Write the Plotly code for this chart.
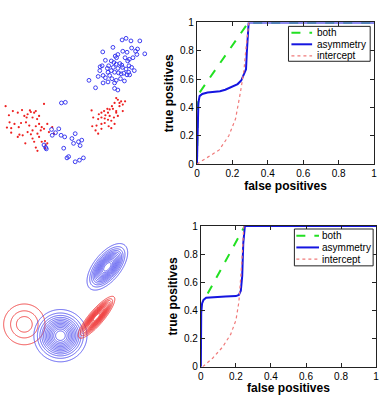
import numpy as np
import plotly.graph_objects as go

# ---------------- data ----------------
# scatter (arbitrary units, y downward)
blue_x = [375,363,390,417,335,392,410,365,378,404,432,304,350,342,346,372,396,408,385,312,330,338,345,356,362,380,384,302,322,296,318,336,350,364,375,392,400,383,330,340,352,360,368,378,386,305,325,290,312,332,345,358,370,320,305,340,262,282,340,350,295,320,
          190,178,148,170,160,177,188,220,230,240,215,235,185,195,200,220,233,245,125,130,132,150,210]
blue_y = [100,105,108,108,128,130,133,140,143,140,148,142,150,155,160,160,160,150,165,168,170,175,180,178,183,170,185,185,185,188,193,190,193,190,195,190,200,205,200,205,207,210,208,213,213,215,215,218,222,225,230,225,232,235,238,238,230,253,255,260,200,205,
          298,300,382,380,392,400,405,395,420,415,425,432,440,470,466,482,477,470,430,438,442,400,410]
red_x = [8,18,30,45,58,65,75,82,85,90,95,100,104,110,125,72,20,12,25,35,48,55,70,80,90,100,110,118,125,135,140,150,155,105,75,60,45,50,68,90,95,110,118,128,130,100,105,135,128,25,85,115,
         345,350,360,372,365,355,340,332,318,325,335,345,365,308,320,300,312,325,338,350,300,290,310,320,330,275,272,285,300,310,322,330,282,290,270,300,340,345,355,292]
red_y = [310,338,325,330,322,340,335,323,328,345,330,325,350,340,303,345,360,376,378,365,375,362,360,370,385,372,365,375,380,365,390,375,395,395,390,400,405,398,425,410,420,405,420,418,430,438,448,425,440,392,397,385,
         285,290,295,295,305,300,300,310,318,320,318,325,325,325,330,330,338,340,345,340,345,350,348,352,355,345,372,370,365,362,372,378,385,395,323,380,365,330,310,335]

# gaussian components for contours: centre x, centre y, sigma major, sigma minor, angle (deg)
g_names  = ["red_left", "blue_big", "blue_top", "red_tilt"]
g_cx     = [65, 175, 318, 285]
g_cy     = [400, 435, 222, 378]
g_s1     = [36, 36, 38, 36.7]
g_s2     = [36, 36, 18.5, 10]
g_ang    = [0, 0, 52, 50]
g_color  = ["#ee3333", "#4a4aee", "#4a4aee", "#ee3333"]
g_lev_start = [0.216, 0.08, 0.08, 0.08]
g_lev_size  = [0.292, 0.07, 0.07, 0.06]
g_lev_end   = [0.8, 0.92, 0.92, 0.92]

# ROC curves (top)
t_asym_x = [0,0.003,0.008,0.015,0.03,0.06,0.1,0.13,0.16,0.2,0.23,0.25,0.265,0.277,0.282,0.287,0.292,1]
t_asym_y = [0,0.2,0.43,0.48,0.495,0.505,0.51,0.515,0.525,0.545,0.565,0.59,0.63,0.67,0.8,0.95,1,1]
t_both_x = [0,0.005,0.012,0.29,1]
t_both_y = [0,0.4,0.5,1,1]
t_int_x = [0,0.05,0.1,0.126,0.18,0.218,0.246,0.265,0.277,0.289,0.293]
t_int_y = [0,0.04,0.08,0.1,0.2,0.32,0.51,0.66,0.82,0.98,1]

# ROC curves (bottom)
b_asym_x = [0,0.001,0.002,0.007,0.015,0.03,0.07,0.14,0.2,0.217,0.228,0.236,0.242,0.247,0.251,1]
b_asym_y = [0,0.2,0.38,0.45,0.475,0.49,0.495,0.5,0.502,0.51,0.54,0.645,0.876,0.99,1,1]
b_both_x = [0.039,0.25,1]
b_both_y = [0.52,1,1]
b_int_x = [0.011,0.067,0.124,0.17,0.2,0.217,0.232,0.24,0.245]
b_int_y = [0,0.06,0.14,0.23,0.33,0.46,0.71,0.92,1]

tick_vals = [0, 0.2, 0.4, 0.6, 0.8, 1]
tick_text = ["0", "0.2", "0.4", "0.6", "0.8", "1"]
legend_names = ["both", "asymmetry", "intercept"]

# ---------------- figure ----------------
FONT = "Liberation Sans, Arial, Helvetica, sans-serif"
W, H = 385, 395
fig = go.Figure()

GREEN = "#22e022"
BLUE = "#1515e0"
PINK = "#f07a7a"
styles = [dict(color=GREEN, width=2, dash="dash"),
          dict(color=BLUE, width=2),
          dict(color=PINK, width=1.2, dash="dot")]

def roc(xa, ya, bx, by, ax, ay, ix, iy):
    for (xs, ys), nm, st in zip([(bx, by), (ax, ay), (ix, iy)], legend_names, styles):
        fig.add_trace(go.Scatter(x=xs, y=ys, mode="lines", name=nm, line=st,
                                 xaxis=xa, yaxis=ya, showlegend=False))

roc("x", "y", t_both_x, t_both_y, t_asym_x, t_asym_y, t_int_x, t_int_y)
roc("x2", "y2", b_both_x, b_both_y, b_asym_x, b_asym_y, b_int_x, b_int_y)

# scatter panel
fig.add_trace(go.Scatter(x=red_x, y=red_y, mode="markers", showlegend=False,
                         marker=dict(size=2.2, color="#ee2020"), xaxis="x3", yaxis="y3"))
fig.add_trace(go.Scatter(x=blue_x, y=blue_y, mode="markers", showlegend=False,
                         marker=dict(size=3.8, color="rgba(0,0,0,0)", line=dict(color="#2a2aee", width=0.9)),
                         xaxis="x3", yaxis="y3"))

# contour panel
gx = np.arange(0, 578, 1.5)
gy = np.arange(0, 602, 1.5)
GX, GY = np.meshgrid(gx, gy)
for i in range(len(g_names)):
    th = np.deg2rad(g_ang[i])
    dx = GX - g_cx[i]
    dy = GY - g_cy[i]
    u = dx * np.cos(th) - dy * np.sin(th)
    v = dx * np.sin(th) + dy * np.cos(th)
    Z = np.exp(-0.5 * ((u / g_s1[i]) ** 2 + (v / g_s2[i]) ** 2))
    fig.add_trace(go.Contour(x=gx, y=gy, z=Z, xaxis="x4", yaxis="y4",
                             contours=dict(coloring="lines", start=g_lev_start[i],
                                           end=g_lev_end[i], size=g_lev_size[i]),
                             colorscale=[[0, g_color[i]], [1, g_color[i]]],
                             line=dict(width=0.9), showscale=False, hoverinfo="skip"))

axis_common = dict(range=[0, 1], tickvals=tick_vals, ticktext=tick_text,
                   ticks="inside", ticklen=4, tickcolor="#222", showgrid=False,
                   zeroline=False, showline=True, linecolor="#222", linewidth=1,
                   mirror="allticks", tickfont=dict(family=FONT, size=10, color="black"),
                   fixedrange=True)
title_font = dict(family=FONT, size=12, color="black", weight="bold")

# manual legends (pixel boxes)
def px(x): return x / W
def py(y): return 1 - y / H

shapes, annots = [], []
def add_legend(box, rows, lx0, lx1, tx):
    x0, y0, x1, y1 = box
    shapes.append(dict(type="rect", xref="paper", yref="paper", x0=px(x0), x1=px(x1),
                       y0=py(y1), y1=py(y0), line=dict(color="#222", width=1),
                       fillcolor="white", layer="above"))
    for ry, nm, st in zip(rows, legend_names, styles):
        shapes.append(dict(type="line", xref="paper", yref="paper", x0=px(lx0), x1=px(lx1),
                           y0=py(ry), y1=py(ry), line=st, layer="above"))
        annots.append(dict(text=nm, xref="paper", yref="paper", x=px(tx), y=py(ry),
                           xanchor="left", yanchor="middle", showarrow=False,
                           font=dict(family=FONT, size=10, color="black")))

add_legend((290, 21, 373, 57), [27.5, 39.5, 51.5], 293, 314, 317)
add_legend((296, 230, 376, 268), [237, 249, 261], 298, 321, 322)

fig.update_layout(
    width=W, height=H, margin=dict(l=0, r=0, t=0, b=0),
    paper_bgcolor="white", plot_bgcolor="white",
    font=dict(family=FONT, size=10, color="black"),
    xaxis=dict(domain=[197/W, 377/W], anchor="y",
               title=dict(text="false positives", font=title_font, standoff=1), **axis_common),
    yaxis=dict(domain=[1-163/H, 1-17/H], anchor="x",
               title=dict(text="true positives", font=title_font, standoff=3), **axis_common),
    xaxis2=dict(domain=[201/W, 379/W], anchor="y2",
                title=dict(text="false positives", font=title_font, standoff=1), **axis_common),
    yaxis2=dict(domain=[1-372/H, 1-227/H], anchor="x2",
                title=dict(text="true positives", font=title_font, standoff=3), **axis_common),
    xaxis3=dict(domain=[0, 0.5], range=[0, 577.5], visible=False, anchor="y3"),
    yaxis3=dict(domain=[0.5, 1], range=[592.5, 0], visible=False, anchor="x3"),
    xaxis4=dict(domain=[0, 0.5], range=[0, 577.5], visible=False, anchor="y4"),
    yaxis4=dict(domain=[0, 0.5], range=[600, 7.5], visible=False, anchor="x4"),
    shapes=shapes, annotations=annots,
    showlegend=False,
)

fig.write_html("out.html")
